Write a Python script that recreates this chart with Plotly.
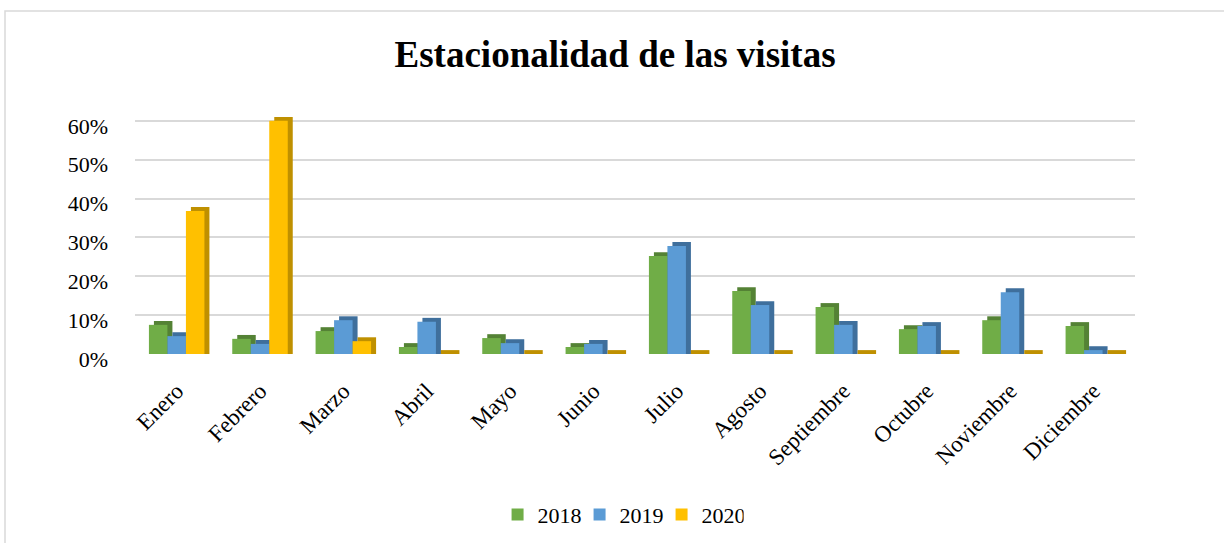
import plotly.graph_objects as go

# Monthly share of visits per year
meses = ["Enero", "Febrero", "Marzo", "Abril", "Mayo", "Junio", "Julio",
         "Agosto", "Septiembre", "Octubre", "Noviembre", "Diciembre"]
v2018 = [0.075, 0.039, 0.059, 0.018, 0.041, 0.018, 0.252, 0.162, 0.121, 0.064, 0.087, 0.072]
v2019 = [0.046, 0.026, 0.087, 0.083, 0.028, 0.026, 0.278, 0.126, 0.075, 0.072, 0.159, 0.010]
v2020 = [0.368, 0.600, 0.033, 0.0, 0.0, 0.0, 0.0, 0.0, 0.0, 0.0, 0.0, 0.0]
anios = ["2018", "2019", "2020"]
y_ticks = [0, 0.1, 0.2, 0.3, 0.4, 0.5, 0.6]

series = [v2018, v2019, v2020]
face = ["#70AD47", "#5B9BD5", "#FFC000"]
side = ["#548235", "#3F6F9C", "#BF9000"]

SERIF = "Liberation Serif, Times New Roman, serif"
BAR_W = 0.222          # bar width in category units
OFFSETS = [-0.333, -0.111, 0.111]
DEPTH_X = 0.06         # horizontal depth of the extruded look
DEPTH_Y = 0.010        # vertical depth of the extruded look

fig = go.Figure()

# darker extrusion behind each bar (side + top faces)
for vals, off, col in zip(series, OFFSETS, side):
    fig.add_trace(go.Bar(
        x=meses, y=[v + DEPTH_Y for v in vals],
        width=BAR_W, offset=off + DEPTH_X,
        marker=dict(color=col, line=dict(width=0)),
        showlegend=False, hoverinfo="skip",
    ))

# front faces
for vals, off, col, name in zip(series, OFFSETS, face, anios):
    fig.add_trace(go.Bar(
        x=meses, y=vals, name=name,
        width=BAR_W, offset=off,
        marker=dict(color=col, line=dict(width=0)),
    ))

# outer chart frame
fig.add_shape(type="rect", xref="paper", yref="paper",
              x0=-0.13, x1=1.3, y0=-1.5, y1=1.435,
              line=dict(color="#D9D9D9", width=1.5), fillcolor="rgba(0,0,0,0)",
              layer="below")

fig.update_layout(
    width=1224, height=543,
    margin=dict(l=135, r=89, t=115, b=189),
    paper_bgcolor="white", plot_bgcolor="white",
    barmode="overlay",
    font=dict(family=SERIF, color="black", size=22),
    title=dict(text="<b>Estacionalidad de las visitas</b>",
               font=dict(family=SERIF, size=37, color="black"),
               x=0.5025, xanchor="center", xref="container",
               y=0.9, yanchor="middle", yref="container"),
    legend=dict(orientation="h", xref="container", yref="container",
                x=0.507, xanchor="center", y=0.052, yanchor="middle",
                font=dict(family=SERIF, size=22), traceorder="normal",
                itemwidth=30, entrywidth=37),
    xaxis=dict(type="category", tickangle=-45, showgrid=False,
               showline=False, ticks="", ticklabelstandoff=18,
               tickfont=dict(family=SERIF, size=23)),
    yaxis=dict(range=[0, 0.615], tickvals=y_ticks, tickformat=".0%",
               showgrid=True, gridcolor="#D9D9D9", gridwidth=2,
               zeroline=False, showline=False, ticks="",
               ticklabelstandoff=26, ticklabelshift=5,
               tickfont=dict(family=SERIF, size=22)),
)

fig.write_html("out.html")
